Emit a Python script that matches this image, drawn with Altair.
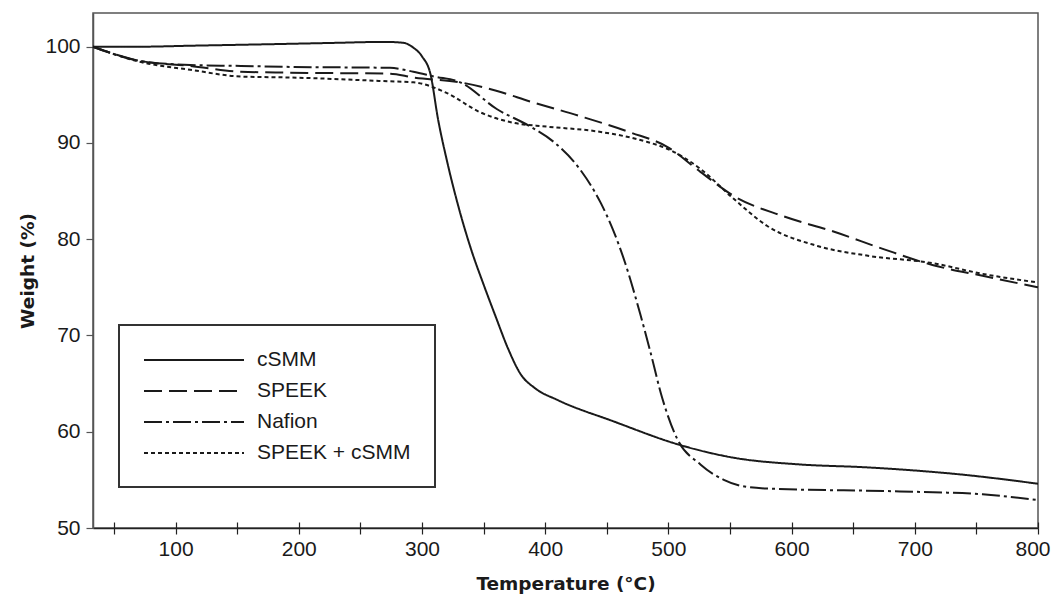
import altair as alt
import pandas as pd

series_names = ["cSMM", "SPEEK", "Nafion", "SPEEK + cSMM"]

csmm_t = [33, 72, 112, 153, 193, 230, 270, 285, 293, 300, 307, 313, 320, 330, 340, 350, 360, 370, 380, 392, 410, 455, 510, 553, 607, 661, 742, 800]
csmm_w = [100, 100.0, 100.1, 100.2, 100.3, 100.4, 100.5, 100.4, 99.9, 99.0, 97.1, 92.5, 88.3, 83.2, 78.9, 75.3, 71.9, 68.6, 66.0, 64.5, 63.3, 61.1, 58.6, 57.3, 56.6, 56.3, 55.5, 54.6]

speek_t = [33, 72, 112, 153, 193, 274, 293, 331, 361, 388, 428, 469, 499, 526, 553, 593, 634, 674, 715, 755, 800]
speek_w = [100, 98.5, 98.0, 97.4, 97.3, 97.2, 96.8, 96.3, 95.4, 94.3, 92.8, 91.1, 89.6, 87.0, 84.5, 82.4, 80.8, 79.0, 77.3, 76.2, 75.0]

nafion_t = [33, 72, 112, 153, 193, 274, 293, 310, 331, 361, 388, 407, 428, 445, 455, 465, 477, 485, 495, 507, 526, 545, 558, 580, 688, 755, 800]
nafion_w = [100, 98.5, 98.1, 98.0, 97.9, 97.8, 97.4, 96.9, 96.3, 93.5, 91.7, 90.1, 87.3, 83.8, 81.0, 77.5, 72.3, 68.5, 63.5, 59.3, 56.6, 55.0, 54.4, 54.1, 53.8, 53.5, 52.9]

blend_t = [33, 72, 112, 153, 193, 274, 293, 320, 347, 374, 401, 442, 483, 499, 526, 553, 580, 621, 661, 715, 755, 800]
blend_w = [100, 98.4, 97.6, 96.9, 96.8, 96.4, 96.3, 95.2, 93.2, 92.1, 91.7, 91.2, 90.1, 89.4, 87.3, 84.2, 81.4, 79.3, 78.3, 77.5, 76.4, 75.5]

x_tick_values = list(range(50, 801, 50))
y_tick_values = [50, 60, 70, 80, 90, 100]

frames = []
for name, ts, ws in [("cSMM", csmm_t, csmm_w), ("SPEEK", speek_t, speek_w),
                     ("Nafion", nafion_t, nafion_w), ("SPEEK + cSMM", blend_t, blend_w)]:
    frames.append(pd.DataFrame({"T": ts, "W": ws, "Sample": name}))
df = pd.concat(frames, ignore_index=True)

LABEL_FONT = "Liberation Sans"
TITLE_FONT = "DejaVu Sans"

xscale = alt.Scale(domain=[33, 800], nice=False, zero=False)
yscale = alt.Scale(domain=[50, 103.5], nice=False, zero=False)

main_x_axis = alt.Axis(
    orient="bottom",
    values=x_tick_values,
    labelExpr="datum.value % 100 == 0 ? datum.label : ''",
    title="Temperature (°C)",
    titleFont=TITLE_FONT, titleFontSize=18.5, titleFontWeight="bold", titleColor="#1a1a1a",
    titlePadding=15,
    labelFont=LABEL_FONT, labelFontSize=21, labelColor="#1a1a1a", labelPadding=4,
    labelFlush=True, labelFlushOffset=12,
    tickSize=6, tickColor="#222", tickWidth=1.2,
    domainColor="#222", domainWidth=1.5, grid=False,
)

inner_x_axis = alt.Axis(
    orient="bottom",
    values=x_tick_values, labels=False, title=None, domain=False,
    tickSize=6, tickColor="#222", tickWidth=1.2, offset=-6, grid=False,
)

y_axis = alt.Axis(
    values=y_tick_values,
    title="Weight (%)",
    titleFont=TITLE_FONT, titleFontSize=18.5, titleFontWeight="bold", titleColor="#1a1a1a",
    titlePadding=7,
    labelFont=LABEL_FONT, labelFontSize=21, labelColor="#1a1a1a", labelPadding=6,
    tickSize=7, tickColor="#555", tickWidth=1.2,
    domainColor="#555", domainWidth=1.5, grid=False,
)

dash_scale = alt.Scale(
    domain=series_names,
    range=[[1, 0], [18, 7], [18, 4, 3, 4], [4, 3]],
)

legend = alt.Legend(
    orient="none", legendX=26, legendY=312, title=None,
    symbolType="M-1,0H9", symbolSize=400, symbolStrokeWidth=2,
    symbolStrokeColor="#1a1a1a",
    labelFont=LABEL_FONT, labelFontSize=21, labelColor="#1a1a1a", labelOffset=92,
    padding=24, rowPadding=10, strokeColor="#333",
    fillColor="white", cornerRadius=0,
)

base = alt.Chart(df)

lines = base.mark_line(color="#1a1a1a", strokeWidth=2, interpolate="monotone", strokeCap="butt").encode(
    x=alt.X("T:Q", scale=xscale, axis=main_x_axis),
    y=alt.Y("W:Q", scale=yscale, axis=y_axis),
    strokeDash=alt.StrokeDash("Sample:N", scale=dash_scale, legend=legend, sort=series_names),
    detail="Sample:N",
)

tick_layer = base.mark_line(opacity=0).encode(
    x=alt.X("T:Q", scale=xscale, axis=inner_x_axis),
    y=alt.Y("W:Q", scale=yscale, axis=y_axis),
    detail="Sample:N",
)

chart = alt.layer(lines, tick_layer).resolve_axis(x="independent").properties(
    width=945, height=515,
    autosize=alt.AutoSizeParams(type="none"),
    padding={"left": 85, "top": 5, "right": 14, "bottom": 66},
    background="white",
).configure_view(stroke="#555", strokeWidth=1.5).configure_legend(strokeWidth=2)

chart.save("out.html", embed_options={"renderer": "svg", "actions": False})
